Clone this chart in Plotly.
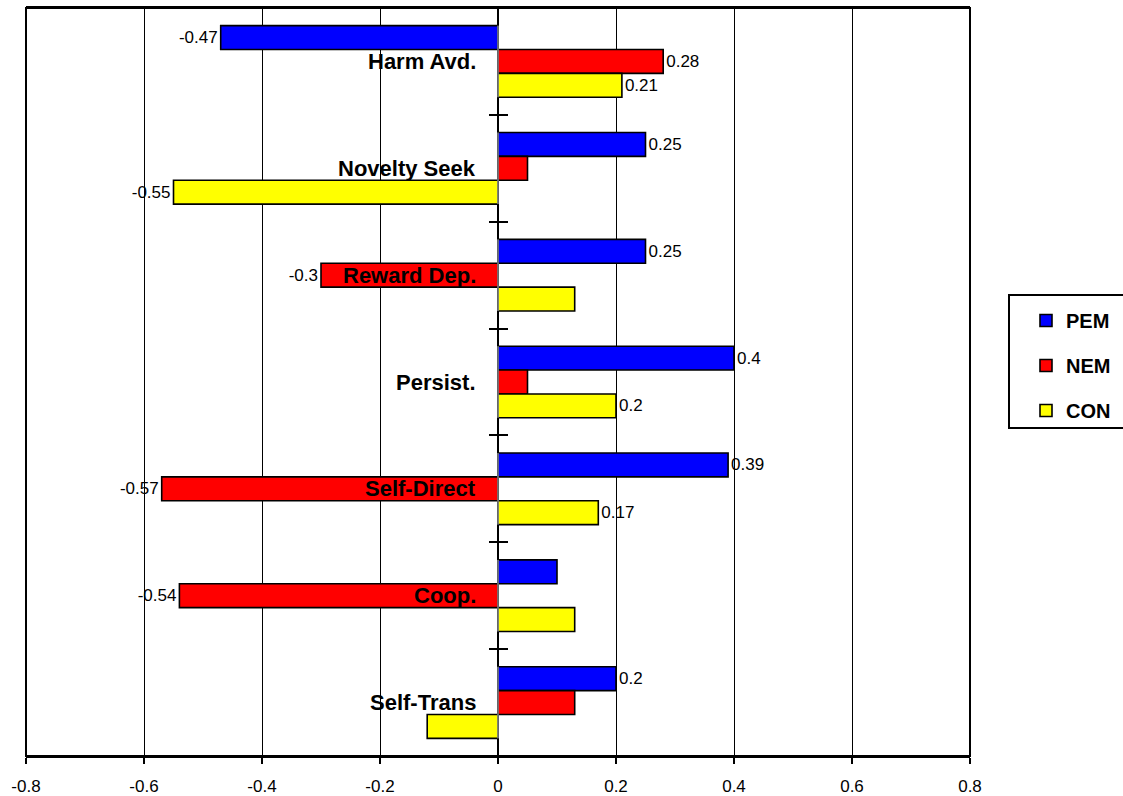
import plotly.graph_objects as go

# Temperament / character dimensions (top to bottom)
categories = ["Harm Avd.", "Novelty Seek", "Reward Dep.", "Persist.",
              "Self-Direct", "Coop.", "Self-Trans"]

series_names = ["PEM", "NEM", "CON"]
pem = [-0.47, 0.25, 0.25, 0.40, 0.39, 0.10, 0.20]
nem = [0.28, 0.05, -0.30, 0.05, -0.57, -0.54, 0.13]
con = [0.21, -0.55, 0.13, 0.20, 0.17, 0.13, -0.12]

# which bars carry a value label
pem_shown = [True, True, True, True, True, False, True]
nem_shown = [True, False, True, False, True, True, False]
con_shown = [True, True, False, True, True, False, False]

x_tickvals = [-0.8, -0.6, -0.4, -0.2, 0, 0.2, 0.4, 0.6, 0.8]
x_ticktext = ["-0.8", "-0.6", "-0.4", "-0.2", "0", "0.2", "0.4", "0.6", "0.8"]

colors = ["#0000FF", "#FF0000", "#FFFF00"]
FONT = "Liberation Sans, Arial, sans-serif"

W, H = 1123, 796
ML, MR, MT, MB = 26, 153, 8, 40
PW, PH = W - ML - MR, H - MT - MB


def fmt(v):
    return "%g" % v


def px_x(px):
    return (px - ML) / PW


def px_y(py):
    return 1 - (py - MT) / PH


fig = go.Figure()
for name, vals, shown, col in zip(series_names, [pem, nem, con],
                                  [pem_shown, nem_shown, con_shown], colors):
    fig.add_trace(go.Bar(
        name="<b>%s</b>" % name,
        legendgroup=name,
        y=categories,
        x=vals,
        orientation="h",
        marker=dict(color=col, line=dict(color="black", width=1.6)),
        text=[fmt(v) if s else "" for v, s in zip(vals, shown)],
        textposition="outside",
        constraintext="none",
        cliponaxis=False,
        textfont=dict(family=FONT, size=17, color="black"),
    ))

# transparent trace on the overlay axis so its inward ticks render
fig.add_trace(go.Bar(y=categories, x=[0] * len(categories), orientation="h",
                     yaxis="y2", showlegend=False, hoverinfo="skip",
                     marker=dict(color="rgba(0,0,0,0)")))

# category names drawn beside the zero line
for cat in categories:
    fig.add_annotation(x=-0.034, y=cat, xref="x", yref="y", text="<b>%s</b>" % cat,
                       showarrow=False, xanchor="right", yanchor="middle",
                       font=dict(family=FONT, size=22, color="black"))

# plot frame and legend frame
fig.add_shape(type="rect", xref="paper", yref="paper", x0=0, x1=1, y0=0, y1=1,
              line=dict(color="black", width=2), fillcolor="rgba(0,0,0,0)", layer="above")
fig.add_shape(type="rect", xref="paper", yref="paper",
              x0=px_x(1009), x1=px_x(1140), y0=px_y(428), y1=px_y(295),
              line=dict(color="black", width=2), fillcolor="white", layer="below")

x_dom_mid = 0.5
fig.update_layout(
    width=W, height=H,
    margin=dict(l=ML, r=MR, t=MT, b=MB, autoexpand=False),
    paper_bgcolor="white", plot_bgcolor="white",
    barmode="group", bargap=0.33, bargroupgap=0,
    font=dict(family=FONT, size=16, color="black"),
    xaxis=dict(range=[-0.8, 0.8], tickvals=x_tickvals, ticktext=x_ticktext,
               automargin=False,
               showgrid=True, gridcolor="black", gridwidth=1,
               zeroline=True, zerolinecolor="black", zerolinewidth=2,
               showline=True, linecolor="black", linewidth=2, mirror=True,
               ticks="outside", ticklen=6, tickcolor="black", tickwidth=2,
               ticklabelstandoff=8,
               tickfont=dict(family=FONT, size=17, color="black")),
    yaxis=dict(autorange="reversed", type="category", automargin=False,
               anchor="free", position=x_dom_mid,
               showticklabels=False, showgrid=False, zeroline=False,
               ticks="outside", ticklen=9, tickcolor="black", tickwidth=2,
               tickson="boundaries", showline=False),
    yaxis2=dict(overlaying="y", autorange="reversed", type="category",
                automargin=False,
                anchor="free", position=x_dom_mid, matches="y",
                showticklabels=False, showgrid=False, zeroline=False,
                ticks="inside", ticklen=9, tickcolor="black", tickwidth=2,
                tickson="boundaries", showline=False),
    showlegend=True,
    legend=dict(x=px_x(1026), y=px_y(301), xanchor="left", yanchor="top",
                bgcolor="rgba(0,0,0,0)", borderwidth=0,
                traceorder="grouped", tracegroupgap=16,
                font=dict(family=FONT, size=20, color="black"),
                itemwidth=30),
)

fig.write_html("out.html")
